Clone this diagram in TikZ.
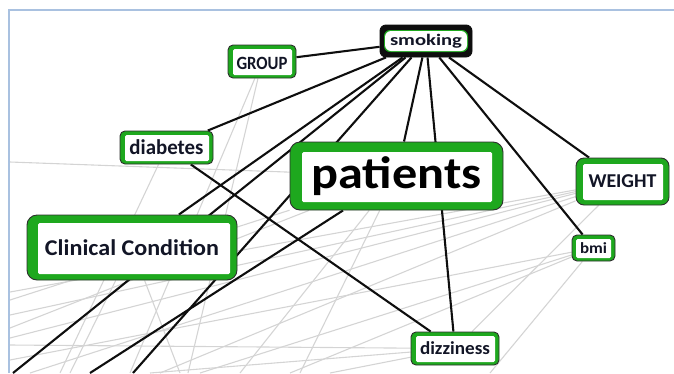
\documentclass[tikz,border=0pt]{standalone}
\usepackage{fontspec}
\setmainfont{Carlito}
\usetikzlibrary{calc}
\pgfdeclarelayer{bg}
\pgfsetlayers{bg,main}
\definecolor{ngreen}{HTML}{1EA81E}
\definecolor{nline}{HTML}{2E2E2E}
\definecolor{ntext}{HTML}{121526}
\definecolor{edgeblack}{HTML}{0E0E0E}
\definecolor{edgegray}{HTML}{D4D4D4}
\definecolor{framecol}{HTML}{A9C1E0}
\newcommand{\fitt}[3]{\resizebox*{#1pt}{#2pt}{\bfseries #3}}
\tikzset{
  gbox/.style n args={5}{draw=nline, line width=0.9pt, fill=ngreen,
    rounded corners=#5, inner sep=0pt, text=ntext,
    path picture={\fill[white, rounded corners=1.5pt]
      ([shift={(#1,#2)}]path picture bounding box.north west) rectangle
      ([shift={(-#3,-#4)}]path picture bounding box.south east);}},
  sbox/.style={draw=edgeblack, line width=0.9pt, fill=edgeblack,
    rounded corners=6pt, inner sep=0pt, text=ntext,
    path picture={\fill[ngreen]
      ([shift={(4,5)}]path picture bounding box.north west) rectangle
      ([shift={(-4,-5)}]path picture bounding box.south east);
      \fill[white]
      ([shift={(5,6)}]path picture bounding box.north west) rectangle
      ([shift={(-5,-6)}]path picture bounding box.south east);}},
  blackedge/.style={draw=edgeblack, line width=2.1pt},
  grayedge/.style={draw=edgegray, line width=1.1pt},
  framestyle/.style={draw=framecol, line width=2.2pt}
}
\begin{document}
\begin{tikzpicture}[x=1pt,y=-1pt]
\useasboundingbox (0,0) rectangle (674,373);

% nodes
\node[sbox, minimum width=92pt, minimum height=32pt] (smoking) at (426,41) {\fitt{72}{14}{smoking}};
\node[gbox={5}{4}{4}{3}{5pt}, minimum width=68pt, minimum height=33pt, text height=15pt, text depth=0pt] (group) at (262,61.5) {\fitt{51}{12.4}{GROUP}};
\node[gbox={5}{4}{4}{3}{5pt}, minimum width=93pt, minimum height=33pt] (diabetes) at (166.5,147.5) {\fitt{74}{15}{diabetes}};
\node[gbox={12}{10}{11}{8}{10pt}, minimum width=213pt, minimum height=68pt, text=black] (patients) at (396.5,176) {\fitt{170}{39}{patients}};
\node[gbox={11}{8}{7}{6}{10pt}, minimum width=210pt, minimum height=65pt] (clinical) at (132,247.5) {\fitt{174}{16}{Clinical Condition}};
\node[gbox={7}{6}{6}{5}{8pt}, minimum width=93pt, minimum height=47pt] (weight) at (622.5,181.5) {\fitt{68}{13}{WEIGHT}};
\node[gbox={4}{4}{4}{3}{5pt}, minimum width=43pt, minimum height=26pt] (bmi) at (593.5,248) {\fitt{27}{11}{bmi}};
\node[gbox={5}{4}{4}{3}{5pt}, minimum width=88pt, minimum height=33pt] (dizziness) at (455,348.5) {\fitt{70}{13}{dizziness}};

% off-picture end points
\coordinate (oA) at (13,373);
\coordinate (oB) at (90,373);
\coordinate (oC) at (133,373);
\coordinate (g1) at (130,373);
\coordinate (g2) at (188,373);
\coordinate (d1) at (60,373);
\coordinate (h1) at (10,162);
\coordinate (w1) at (10,292);
\coordinate (w2) at (10,315);
\coordinate (w3) at (10,338);
\coordinate (w4) at (30,373);
\coordinate (w5) at (160,373);
\coordinate (b1) at (10,360);
\coordinate (b2) at (290,373);
\coordinate (b3) at (490,373);
\coordinate (b4) at (200,373);
\coordinate (p1) at (10,300);
\coordinate (p2) at (240,373);
\coordinate (p3) at (300,373);
\coordinate (p4) at (10,328);
\coordinate (c1) at (70,373);
\coordinate (c2) at (180,373);
\coordinate (z1) at (10,345);
\coordinate (z2) at (150,373);
\coordinate (z3) at (330,373);

\begin{pgfonlayer}{bg}
\begin{scope}
\clip (10,11) rectangle (674,373);
% light background connections
\foreach \a/\b in {group/g1, group/g2, diabetes/d1, patients/h1,
  weight/w1, weight/w2, weight/w3, weight/w4, weight/w5, weight/dizziness,
  bmi/b1, bmi/b2, bmi/b3, bmi/b4, patients/p1, patients/p2, patients/p3,
  patients/p4, clinical/c1, clinical/c2, dizziness/z1, dizziness/z2,
  dizziness/z3}
  \draw[grayedge] (\a) -- (\b);
% black connections
\foreach \a/\b in {smoking/group, smoking/diabetes, smoking/clinical,
  smoking/oA, smoking/oC, smoking/patients, smoking/dizziness,
  smoking/bmi, smoking/weight, diabetes/dizziness, patients/oB}
  \draw[blackedge] (\a) -- (\b);
\end{scope}
\end{pgfonlayer}

% frame
\draw[framestyle] (9,373) -- (9,10) -- (674,10);
\end{tikzpicture}
\end{document}
